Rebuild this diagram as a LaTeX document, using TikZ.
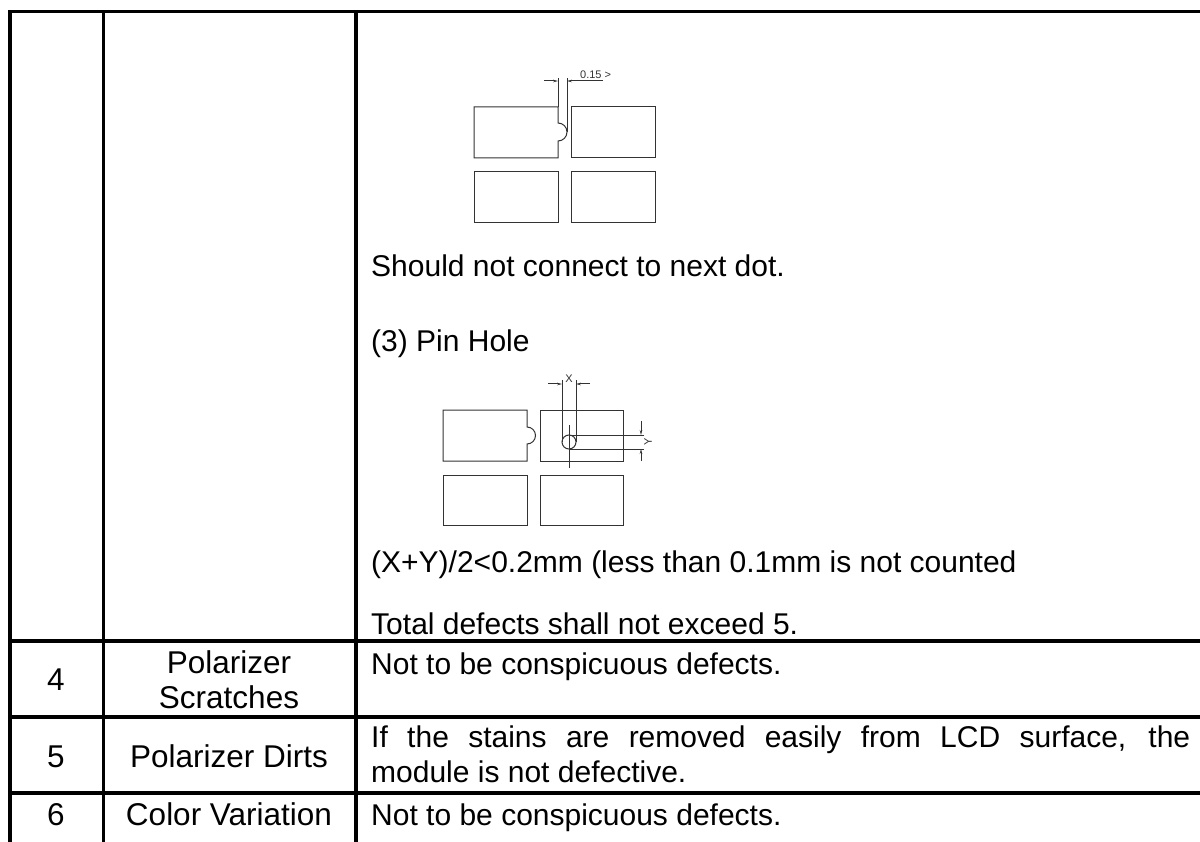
\documentclass[tikz,border=0pt]{standalone}
\usepackage{fontspec}
\setmainfont{Liberation Sans}
\usetikzlibrary{arrows.meta}
\tikzstyle{grid line}=[line width=3.2pt]
\tikzstyle{cad}=[line width=1pt, black!80]
\tikzstyle{dimarrow}=[cad, -{Stealth[length=5pt,width=2.6pt]}]
\tikzstyle{cell}=[inner sep=0pt, font=\fontsize{30}{35}\selectfont]
\tikzstyle{itemcell}=[inner sep=0pt, font=\fontsize{31.5}{35}\selectfont]
\tikzstyle{dimtext}=[inner sep=0pt, font=\fontsize{11}{13}\selectfont, text=black!80]

\begin{document}
\begin{tikzpicture}[x=1pt, y=-1pt]
            \useasboundingbox (0,0) rectangle (1200,842);
            \draw[grid line] (10,842) -- (10,11.5) -- (1200,11.5);
            \draw[grid line] (103.5,11.5) -- (103.5,842);
            \draw[grid line] (356,11.5) -- (356,842);
            \foreach \y in {641,717,793}
                \draw[grid line] (10,\y) -- (1200,\y);
            \draw[cad] (474,107) -- (558,107) -- (558,123)
                arc[start angle=-90, end angle=90, radius=9] -- (558,158) -- (474,158) -- cycle;
            \draw[cad] (571,107) rectangle (655,158);
            \draw[cad] (474,172) rectangle (558,223);
            \draw[cad] (571,172) rectangle (655,223);
            \draw[cad] (558,107) -- (558,78);
            \draw[cad] (567,132) -- (567,78);
            \draw[dimarrow] (544,81) -- (558,81);
            \draw[dimarrow] (603,81) -- (567,81);
            \node[dimtext, anchor=base west] (gap) at (580,79) {0.15 >};
            \node[cell, anchor=base west] (nextdot) at (371,277) {Should not connect to next dot.};
            \node[cell, anchor=base west] (pinhole) at (371,352) {(3) Pin Hole};
            \draw[cad] (443,410) -- (527,410) -- (527,427)
                arc[start angle=-90, end angle=90, radius=8.5] -- (527,461) -- (443,461) -- cycle;
            \draw[cad] (540,410) rectangle (623,461);
            \draw[cad] (443,475) rectangle (527,525);
            \draw[cad] (540,475) rectangle (623,525);
            \draw[cad] (569,442) circle[radius=7];
            \draw[cad] (569,425) -- (569,468);
            \draw[cad] (562,442) -- (562,380);
            \draw[cad] (576,442) -- (576,380);
            \draw[dimarrow] (548,384) -- (562,384);
            \draw[dimarrow] (590,384) -- (576,384);
            \node[dimtext, anchor=base] (xsize) at (569,383) {X};
            \draw[cad] (569,435) -- (644,435);
            \draw[cad] (569,449) -- (644,449);
            \draw[dimarrow] (641,421) -- (641,435);
            \draw[dimarrow] (641,461) -- (641,449);
            \node[dimtext, rotate=90] (ysize) at (648,442) {Y};
            \node[cell, anchor=base west] (rule) at (371,572) {(X+Y)/2<0.2mm (less than 0.1mm is not counted};
            \node[cell, anchor=base west] (total) at (371,634) {Total defects shall not exceed 5.};
            \node[itemcell, anchor=base] (no4) at (56,690) {4};
            \node[itemcell, anchor=base] (item4a) at (229,673) {Polarizer};
            \node[itemcell, anchor=base] (item4b) at (229,708) {Scratches};
            \node[cell, anchor=base west] (crit4) at (371,674) {Not to be conspicuous defects.};
            \node[itemcell, anchor=base] (no5) at (56,767) {5};
            \node[itemcell, anchor=base] (item5) at (229,767) {Polarizer Dirts};
            \node[cell, anchor=base west] (crit5a) at (371,747)
                {\makebox[819pt][s]{If the stains are removed easily from LCD surface, the}};
            \node[cell, anchor=base west] (crit5b) at (371,782) {module is not defective.};
            \node[itemcell, anchor=base] (no6) at (56,825) {6};
            \node[itemcell, anchor=base] (item6) at (229,825) {Color Variation};
            \node[cell, anchor=base west] (crit6) at (371,825) {Not to be conspicuous defects.};
        \end{tikzpicture}
\end{document}
